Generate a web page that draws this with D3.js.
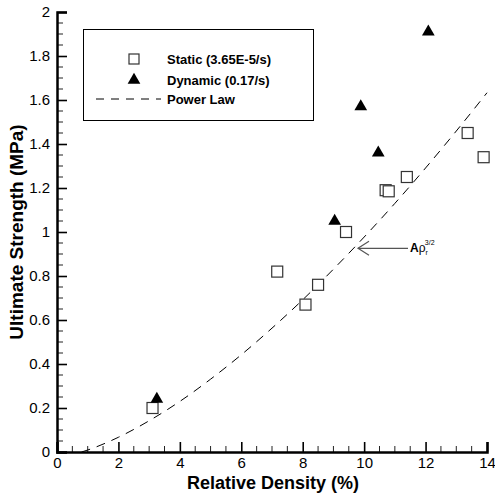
<!DOCTYPE html>
<html>
<head>
<meta charset="utf-8">
<script src="https://cdn.jsdelivr.net/npm/d3@7"></script>
<style>
    body { margin: 0; background: #fff; }
    text { font-family: "Liberation Sans", Arial, sans-serif; fill: #000; }
</style>
</head>
<body>
<div id="chart"></div>
<script>
// Static tests (3.65E-5/s): relative density (%) and strength (MPa)
const staticDensity = [3.11, 7.17, 8.09, 8.50, 9.41, 10.70, 10.80, 11.39, 13.37, 13.89]
const staticStrength = [0.20, 0.82, 0.67, 0.76, 1.00, 1.19, 1.185, 1.25, 1.45, 1.34]

// Dynamic tests (0.17/s)
const dynamicDensity = [3.25, 9.04, 9.89, 10.46, 12.09]
const dynamicStrength = [0.24, 1.05, 1.57, 1.36, 1.91]

// Power law curve
const powerDensity = [0.8, 1, 2, 3, 4, 5, 6, 7, 8, 9, 10, 11, 12, 13, 14]
const powerStrength = [0, 0.009, 0.067, 0.142, 0.230, 0.331, 0.442, 0.563, 0.692, 0.831, 0.977, 1.130, 1.291, 1.459, 1.633]

const xTicks = [0, 2, 4, 6, 8, 10, 12, 14]
const yTicks = [0, 0.2, 0.4, 0.6, 0.8, 1, 1.2, 1.4, 1.6, 1.8, 2]
const legendLabels = ["Static (3.65E-5/s)", "Dynamic (0.17/s)", "Power Law"]

const width = 495
const height = 499
const margin = {left: 57, right: 8, top: 12, bottom: 47}

const svg = d3.select("#chart").append("svg")
    .attr("width", width)
    .attr("height", height)

const x = d3.scaleLinear().domain([0, 14]).range([margin.left, width - margin.right])
const y = d3.scaleLinear().domain([0, 2]).range([height - margin.bottom, margin.top])

// minor ticks
const xMinor = d3.range(0, 14.01, 0.5).filter(v => Math.abs(v % 2) > 1e-6)
const yMinor = d3.range(0, 2.001, 0.05).filter(v => Math.abs((v * 5) - Math.round(v * 5)) > 1e-6)

svg.append("g").selectAll("line").data(xMinor).join("line")
    .attr("x1", d => x(d)).attr("x2", d => x(d))
    .attr("y1", y(0)).attr("y2", y(0) - 6)
    .attr("stroke", "#222").attr("stroke-width", 1)

svg.append("g").selectAll("line").data(yMinor).join("line")
    .attr("y1", d => y(d)).attr("y2", d => y(d))
    .attr("x1", x(0)).attr("x2", x(0) + 6)
    .attr("stroke", "#222").attr("stroke-width", 1)

const xAxis = svg.append("g")
    .attr("transform", `translate(0, ${y(0)})`)
    .call(d3.axisBottom(x).tickValues(xTicks).tickSize(-10).tickPadding(5).tickFormat(d3.format("d")))
const yAxis = svg.append("g")
    .attr("transform", `translate(${x(0)}, 0)`)
    .call(d3.axisLeft(y).tickValues(yTicks).tickSize(-10).tickPadding(7).tickFormat(d => d3.format("")(+d.toFixed(1))))

for (const ax of [xAxis, yAxis]) {
    ax.select(".domain").attr("stroke", "#000").attr("stroke-width", 2.5)
    ax.selectAll(".tick line").attr("stroke", "#000").attr("stroke-width", 1.6)
    ax.selectAll(".tick text")
        .style("font-family", "'Liberation Sans', Arial, sans-serif")
        .style("font-size", "15px")
        .attr("fill", "#111")
}

// axis titles
svg.append("text")
    .attr("x", (x(0) + x(14)) / 2 + 1)
    .attr("y", 489)
    .attr("text-anchor", "middle")
    .style("font-size", "18px")
    .style("font-weight", "bold")
    .text("Relative Density (%)")

svg.append("text")
    .attr("transform", `translate(23, ${(y(0) + y(2)) / 2}) rotate(-90)`)
    .attr("text-anchor", "middle")
    .style("font-size", "19px")
    .style("font-weight", "bold")
    .text("Ultimate Strength (MPa)")

// power law curve
const line = d3.line()
    .x(d => x(d[0]))
    .y(d => y(d[1]))
    .curve(d3.curveMonotoneX)

svg.append("path")
    .datum(d3.zip(powerDensity, powerStrength))
    .attr("d", line)
    .attr("fill", "none")
    .attr("stroke", "#000")
    .attr("stroke-width", 1)
    .attr("stroke-dasharray", "9,7")

// static squares
const sq = 11
svg.append("g").selectAll("rect").data(d3.zip(staticDensity, staticStrength)).join("rect")
    .attr("x", d => x(d[0]) - sq / 2)
    .attr("y", d => y(d[1]) - sq / 2)
    .attr("width", sq).attr("height", sq)
    .attr("fill", "#fff")
    .attr("stroke", "#333")
    .attr("stroke-width", 1.2)

// dynamic triangles
const tri = d3.symbol().type(d3.symbolTriangle).size(70)
svg.append("g").selectAll("path").data(d3.zip(dynamicDensity, dynamicStrength)).join("path")
    .attr("transform", d => `translate(${x(d[0])}, ${y(d[1])})`)
    .attr("d", tri)
    .attr("fill", "#000")

// annotation arrow
const arrowTip = [x(9.8), y(0.926)]
const arrowTail = [408, arrowTip[1]]
svg.append("line")
    .attr("x1", arrowTail[0]).attr("y1", arrowTail[1])
    .attr("x2", arrowTip[0]).attr("y2", arrowTip[1])
    .attr("stroke", "#555").attr("stroke-width", 1.2)
svg.append("path")
    .attr("d", `M${arrowTip[0] + 11},${arrowTip[1] - 7} L${arrowTip[0]},${arrowTip[1]} L${arrowTip[0] + 11},${arrowTip[1] + 7}`)
    .attr("fill", "none")
    .attr("stroke", "#555").attr("stroke-width", 1.2)

const ann = svg.append("text")
    .attr("x", 410)
    .attr("y", arrowTip[1] + 4)
    .style("font-size", "12px")
ann.append("tspan").style("font-weight", "bold").text("A")
ann.append("tspan").text("ρ")
ann.append("tspan").attr("dy", 3).style("font-size", "7px").text("r")
ann.append("tspan").attr("dx", -3).attr("dy", -10).style("font-size", "7px").text("3/2")

// legend
const legend = svg.append("g")
legend.append("rect")
    .attr("x", 83.5).attr("y", 29.5)
    .attr("width", 230).attr("height", 91)
    .attr("fill", "#fff")
    .attr("stroke", "#000")
    .attr("stroke-width", 1)

const rowY = [59, 80, 99]
legend.append("rect")
    .attr("x", 134 - 5).attr("y", rowY[0] - 5)
    .attr("width", 10).attr("height", 10)
    .attr("fill", "#fff").attr("stroke", "#333").attr("stroke-width", 1.2)
legend.append("path")
    .attr("transform", `translate(134, ${rowY[1]})`)
    .attr("d", tri)
    .attr("fill", "#000")
legend.append("line")
    .attr("x1", 96).attr("x2", 161)
    .attr("y1", rowY[2]).attr("y2", rowY[2])
    .attr("stroke", "#000").attr("stroke-width", 1)
    .attr("stroke-dasharray", "8,7")

legend.selectAll(".legend-label").data(legendLabels).join("text")
    .attr("class", "legend-label")
    .attr("x", 167)
    .attr("y", (d, i) => rowY[i])
    .attr("dy", "0.36em")
    .style("font-size", "13px")
    .style("font-weight", "bold")
    .text(d => d)
</script>
</body>
</html>
